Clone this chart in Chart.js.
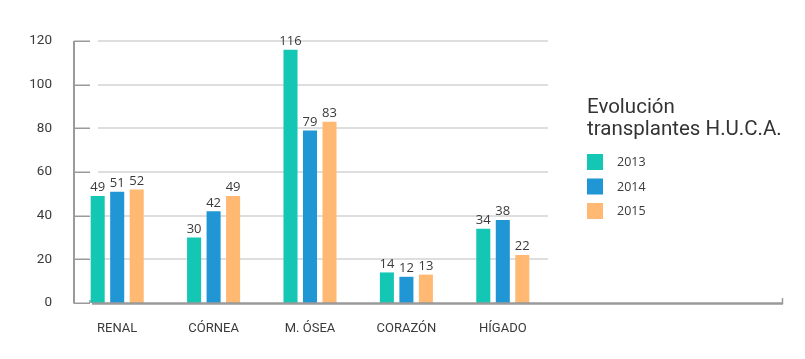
<!DOCTYPE html>
<html>
<head>
<meta charset="utf-8">
<script src="https://cdn.jsdelivr.net/npm/chart.js@4.4.1/dist/chart.umd.min.js"></script>
<style>
html,body{margin:0;padding:0;background:#fff;}
canvas{display:block;}
</style>
</head>
<body>
<canvas id="c" width="805" height="359"></canvas>
<script>
const categories = ['RENAL', 'CÓRNEA', 'M. ÓSEA', 'CORAZÓN', 'HÍGADO'];
const years = ['2013', '2014', '2015'];
const values2013 = [49, 30, 116, 14, 34];
const values2014 = [51, 42, 79, 12, 38];
const values2015 = [52, 49, 83, 13, 22];
const yTicks = [0, 20, 40, 60, 80, 100, 120];
const legendTitle = ['Evolución', 'transplantes H.U.C.A.'];

const colors = ['#14C6B4', '#2196D4', '#FFB972'];
const textColor = '#3a3a3a';

const decor = {
  id: 'decor',
  beforeDatasetsDraw(chart) {
    const ctx = chart.ctx;
    const y = chart.scales.y;
    const area = chart.chartArea;
    const axisX = area.left + 5;
    ctx.save();
    ctx.strokeStyle = '#dedede';
    ctx.lineWidth = 2;
    yTicks.forEach(v => {
      if (v === 0) return;
      const py = Math.round(y.getPixelForValue(v));
      ctx.beginPath();
      ctx.moveTo(axisX + 24, py);
      ctx.lineTo(area.right - 3, py);
      ctx.stroke();
    });
    ctx.strokeStyle = '#9a9a9a';
    ctx.lineWidth = 1.5;
    yTicks.forEach(v => {
      const py = Math.round(y.getPixelForValue(v)) + 0.25;
      ctx.beginPath();
      ctx.moveTo(axisX, py);
      ctx.lineTo(axisX + 16, py);
      ctx.stroke();
    });
    const p0 = Math.round(y.getPixelForValue(0));
    ctx.beginPath();
    ctx.moveTo(axisX + 16, p0);
    ctx.lineTo(axisX + 16, p0 - 3);
    ctx.stroke();
    ctx.lineWidth = 2;
    ctx.beginPath();
    ctx.moveTo(axisX, Math.round(y.getPixelForValue(120)));
    ctx.lineTo(axisX, p0 + 0.5);
    ctx.stroke();
    ctx.restore();
  },
  afterDatasetsDraw(chart) {
    const ctx = chart.ctx;
    const y = chart.scales.y;
    const area = chart.chartArea;
    const axisX = area.left + 5;
    const p0 = Math.round(y.getPixelForValue(0));
    ctx.save();
    ctx.strokeStyle = '#9a9a9a';
    ctx.lineWidth = 2.5;
    ctx.beginPath();
    ctx.moveTo(axisX + 18, p0 + 0.5);
    ctx.lineTo(783, p0 + 0.5);
    ctx.stroke();
    ctx.lineWidth = 1.5;
    ctx.beginPath();
    ctx.moveTo(782.5, p0 + 1);
    ctx.lineTo(782.5, p0 - 5);
    ctx.stroke();
    ctx.fillStyle = textColor;
    ctx.font = '13px "Open Sans"';
    ctx.textAlign = 'center';
    ctx.textBaseline = 'bottom';
    chart.data.datasets.forEach((ds, i) => {
      const meta = chart.getDatasetMeta(i);
      meta.data.forEach((bar, j) => {
        ctx.fillText(String(ds.data[j]), bar.x, bar.y - 2);
      });
    });
    ctx.textAlign = 'left';
    ctx.textBaseline = 'alphabetic';
    ctx.font = '20.5px Roboto';
    ctx.fillStyle = '#333';
    ctx.fillText(legendTitle[0], 587, 113);
    ctx.fillText(legendTitle[1], 587, 135);
    ctx.font = '12.5px "Open Sans"';
    ctx.textBaseline = 'middle';
    chart.data.datasets.forEach((ds, i) => {
      const top = 154 + i * 24.5;
      ctx.fillStyle = ds.backgroundColor;
      ctx.fillRect(587, top, 16, 16);
      ctx.fillStyle = textColor;
      ctx.fillText(ds.label, 617, top + 8.5);
    });
    ctx.restore();
  }
};

new Chart(document.getElementById('c'), {
  type: 'bar',
  data: {
    labels: categories,
    datasets: [
      { label: years[0], data: values2013, backgroundColor: colors[0] },
      { label: years[1], data: values2014, backgroundColor: colors[1] },
      { label: years[2], data: values2015, backgroundColor: colors[2] }
    ]
  },
  options: {
    responsive: false,
    animation: false,
    devicePixelRatio: 1,
    layout: { padding: { top: 41, right: 254, bottom: 26, left: 0 } },
    datasets: { bar: { barPercentage: 0.72, categoryPercentage: 0.607 } },
    plugins: { legend: { display: false }, tooltip: { enabled: false } },
    scales: {
      x: {
        grid: { display: false },
        border: { display: false },
        ticks: { color: textColor, font: { family: 'Roboto', size: 13 }, padding: 10, maxRotation: 0 },
        afterFit(s) { s.height = 30; }
      },
      y: {
        min: 0,
        max: 120,
        grid: { display: false },
        border: { display: false },
        afterBuildTicks(s) { s.ticks = yTicks.map(v => ({ value: v })); },
        ticks: { color: textColor, font: { family: 'Roboto', size: 13.5 }, padding: 9 },
        afterFit(s) { s.width = 69; }
      }
    }
  },
  plugins: [decor]
});
</script>
</body>
</html>
